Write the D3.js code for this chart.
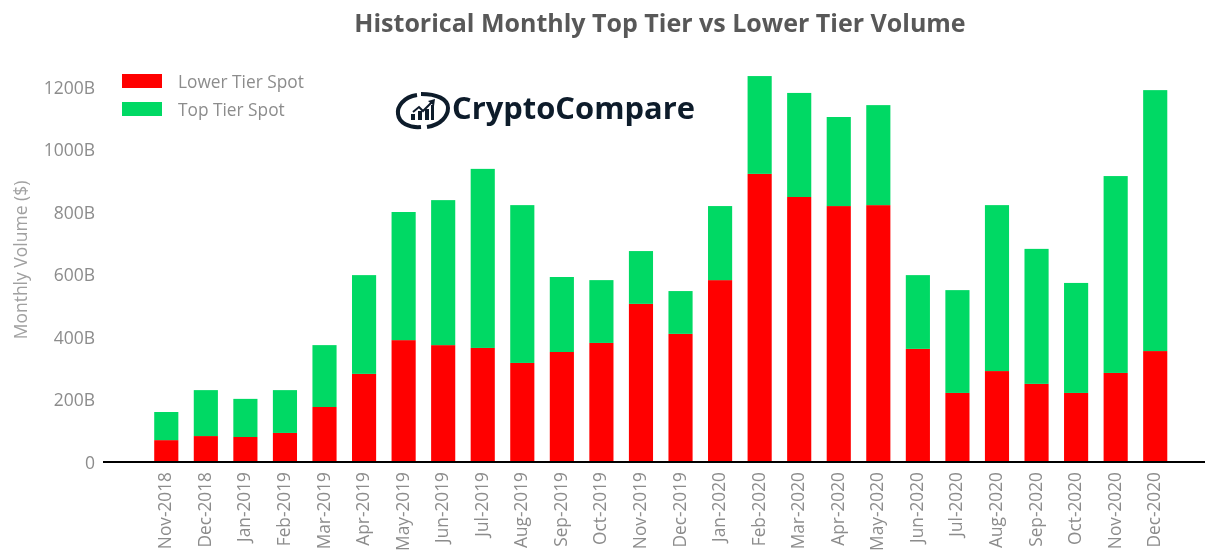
<!DOCTYPE html>
<html><head><meta charset="utf-8">
<script src="https://cdn.jsdelivr.net/npm/d3@7"></script>
<style>
html,body{margin:0;padding:0;background:#fff}
svg{display:block}
text{font-family:"Open Sans",sans-serif}
</style></head><body>
<svg id="c" width="1218" height="551"></svg>
<script>
const months = ["Nov-2018","Dec-2018","Jan-2019","Feb-2019","Mar-2019","Apr-2019","May-2019","Jun-2019","Jul-2019","Aug-2019","Sep-2019","Oct-2019","Nov-2019","Dec-2019","Jan-2020","Feb-2020","Mar-2020","Apr-2020","May-2020","Jun-2020","Jul-2020","Aug-2020","Sep-2020","Oct-2020","Nov-2020","Dec-2020"];
const lowerTier = [70,83,80,93,176,282,390,374,365,317,352,381,506,410,582,922,848,819,822,362,221,291,250,221,285,355];
const topTier = [90,147,122,137,198,316,410,464,573,505,240,201,169,137,237,313,333,285,320,236,329,531,432,352,630,835];
const yTicks = [0,200,400,600,800,1000,1200];
const seriesNames = ["Lower Tier Spot","Top Tier Spot"];
const seriesColors = ["#ff0000","#00d964"];

const svg = d3.select("#c");
const defs = svg.append("defs");
defs.append("filter").attr("id","soft").attr("filterUnits","userSpaceOnUse").attr("x",0).attr("y",0).attr("width",1218).attr("height",551)
  .append("feGaussianBlur").attr("stdDeviation",0.6);

const x = d3.scaleBand().domain(months).range([146.5,1175]).paddingInner(0.39).paddingOuter(0.195);
const y = d3.scaleLinear().domain([0,1200]).range([462,87]);

const rows = months.map((m,i)=>({m,lower:lowerTier[i],top:topTier[i]}));
const stack = d3.stack().keys(["lower","top"])(rows);
svg.append("g").selectAll("g").data(stack).join("g").attr("fill",(d,i)=>seriesColors[i])
  .selectAll("rect").data(d=>d).join("rect")
  .attr("x",d=>x(d.data.m)).attr("width",x.bandwidth())
  .attr("y",d=>y(d[1])).attr("height",d=>y(d[0])-y(d[1]));

// baseline
svg.append("line").attr("x1",103).attr("x2",1205).attr("y1",y(0)).attr("y2",y(0)).attr("stroke","#000").attr("stroke-width",2);

// legend swatches
svg.append("g").selectAll("rect").data(seriesNames).join("rect")
  .attr("x",122).attr("y",(d,i)=>74+i*28).attr("width",40).attr("height",14).attr("fill",(d,i)=>seriesColors[i]);

// all text and the logo share one soft layer, like the raster source
const soft = svg.append("g").attr("filter","url(#soft)");

const gy = soft.append("g").attr("transform","translate(95,0)")
  .call(d3.axisLeft(y).tickValues(yTicks).tickSize(0).tickPadding(0).tickFormat(d=>d===0?"0":d+"B"));
gy.select(".domain").remove();
gy.selectAll("text").attr("fill","#8c8c8c").style("font-size","17.5px").attr("dy","0.35em");

const gx = soft.append("g").attr("transform","translate(0,462)")
  .call(d3.axisBottom(x).tickSize(0).tickPadding(0));
gx.select(".domain").remove();
gx.selectAll("text").attr("fill","#8c8c8c").style("font-size","17.3px")
  .attr("transform","translate(-1,10) rotate(-90)").attr("text-anchor","end").attr("x",0).attr("y",0).attr("dy","0.35em");

soft.append("text").attr("transform","translate(21,260) rotate(-90)").attr("text-anchor","middle").attr("dy","0.35em")
  .attr("fill","#a0a0a0").style("font-size","17.5px").text("Monthly Volume ($)");

soft.append("text").attr("x",660).attr("y",32).attr("text-anchor","middle").attr("fill","#595959")
  .style("font-size","25px").style("font-weight",700)
  .text("Historical Monthly Top Tier vs Lower Tier Volume");

soft.append("g").selectAll("text").data(seriesNames).join("text")
  .attr("x",178).attr("y",(d,i)=>82+i*28).attr("dy","0.35em").attr("fill","#8c8c8c")
  .style("font-size","17.3px").text(d=>d);

// logo
const logo = soft.append("g");
const mark = logo.append("g").attr("transform","translate(423,111)").attr("fill","none").attr("stroke","#0b1a2b");
mark.append("path").attr("stroke-width",4).attr("d","M-6,-16 C-20,-14 -26,-4 -25,3 C-24,12 -14,17 -2,16");
mark.append("path").attr("stroke-width",4).attr("d","M4,16 C18,14 25,5 25,-3 C25,-12 14,-17 -2,-17");
mark.append("path").attr("stroke-width",2).attr("d","M-10,1 L-4,-4 L0,0 L9,-9");
mark.append("path").attr("fill","#0b1a2b").attr("stroke","none").attr("d","M-12,9V3H-8V9ZM-5,9V0H-1V9ZM2,9V-2H6V9ZM8,9V-6H11V9ZM5,-10L12,-12L11,-5Z");
logo.append("text").attr("x",452).attr("y",119).attr("fill","#0b1a2b").style("font-size","31px").style("font-weight",700).attr("textLength",243).attr("lengthAdjust","spacingAndGlyphs").text("CryptoCompare");
</script>
</body></html>
